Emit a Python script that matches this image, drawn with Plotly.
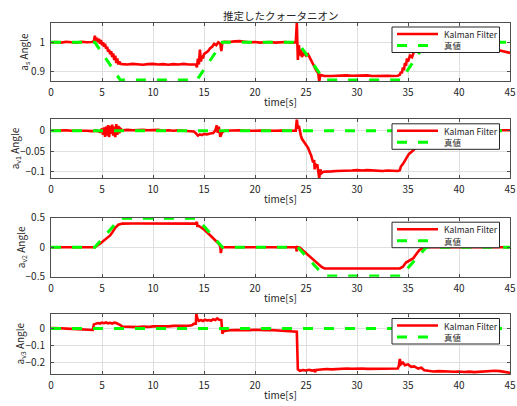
import plotly.graph_objects as go

# ---------------- data ----------------
# reference (true) quaternion trajectory, piecewise linear
t_true = [0, 4.3, 6.8, 14.3, 16.8, 24.2, 26.8, 34.3, 36.8, 45]
as_true = [1, 1, 0.872, 0.872, 1, 1, 0.872, 0.872, 1, 1]
av1_true = [0, 0, 0, 0, 0, 0, 0, 0, 0, 0]
av2_true = [0, 0, 0.49, 0.49, 0, 0, -0.49, -0.49, 0, 0]
av3_true = [0, 0, 0, 0, 0, 0, 0, 0, 0, 0]

# Kalman filter estimate of a_s  (time, value)
as_kf = [
    (0, 1.0), (0.5, 1.001), (1, 0.999), (1.5, 1.002), (2, 1.0), (2.5, 0.999), (3, 1.002),
    (3.5, 1.0), (4, 1.001), (4.2, 1.003), (4.3, 1.022), (4.4, 1.005), (4.5, 1.015), (4.6, 1.0),
    (4.7, 1.012), (4.8, 0.995), (4.9, 1.008), (5.0, 0.99), (5.1, 1.0), (5.2, 0.985), (5.3, 0.995),
    (5.4, 0.978), (5.5, 0.985), (5.6, 0.968), (5.7, 0.975), (5.8, 0.96), (5.9, 0.97), (6.0, 0.95),
    (6.1, 0.962), (6.2, 0.94), (6.3, 0.955), (6.4, 0.93), (6.5, 0.945), (6.6, 0.925), (6.7, 0.935),
    (6.8, 0.927), (7, 0.926), (7.5, 0.925), (8, 0.927), (8.5, 0.926), (9, 0.924), (9.5, 0.926),
    (10, 0.927), (10.5, 0.925), (11, 0.926), (11.5, 0.924), (12, 0.926), (12.5, 0.925), (13, 0.927),
    (13.5, 0.925), (14, 0.926), (14.2, 0.925), (14.3, 0.915), (14.4, 0.945), (14.5, 0.925),
    (14.6, 0.975), (14.7, 0.935), (14.8, 0.955), (14.9, 0.945), (15.0, 0.96), (15.2, 0.965),
    (15.4, 0.97), (15.6, 0.98), (15.8, 0.985), (16.0, 0.995), (16.2, 0.99), (16.4, 1.0),
    (16.6, 0.995), (16.7, 0.97), (16.8, 1.0), (17, 1.002), (17.5, 1.001), (18, 1.003),
    (18.5, 1.004), (19, 1.002), (19.5, 1.0), (20, 1.001), (20.5, 0.999), (21, 1.0), (21.5, 1.001),
    (22, 0.999), (22.5, 1.0), (23, 1.001), (23.5, 0.999), (24, 1.0), (24.1, 1.067), (24.15, 1.0),
    (24.2, 0.94), (24.3, 0.99), (24.4, 0.955), (24.5, 0.975), (24.6, 0.95), (24.8, 0.965),
    (25.0, 0.955), (25.2, 0.96), (25.4, 0.945), (25.6, 0.935), (25.8, 0.92), (26.0, 0.905),
    (26.2, 0.895), (26.3, 0.867), (26.4, 0.89), (26.6, 0.888), (26.8, 0.886), (27.5, 0.886),
    (28, 0.887), (28.5, 0.886), (29, 0.888), (29.5, 0.887), (30, 0.888), (30.5, 0.887),
    (31, 0.888), (31.5, 0.886), (32, 0.887), (32.5, 0.886), (33, 0.887), (33.5, 0.886),
    (34, 0.887), (34.2, 0.89), (34.3, 0.9), (34.4, 0.895), (34.5, 0.915), (34.6, 0.905),
    (34.7, 0.93), (34.8, 0.92), (34.9, 0.945), (35.0, 0.935), (35.2, 0.955), (35.4, 0.95),
    (35.6, 0.97), (35.8, 0.975), (36.0, 0.985), (36.5, 0.995), (37, 1.0), (38, 1.0), (39, 0.998),
    (40, 0.995), (41, 0.99), (42, 0.985), (43, 0.978), (44, 0.972), (44.5, 0.968), (45, 0.964),
]

# Kalman filter estimate of a_v1
av1_kf = [
    (0, 0.0), (0.5, 0.0005), (1, -0.0005), (1.5, 0.001), (2, 0.0), (2.5, 0.0005), (3, -0.0005),
    (3.5, 0.0), (4, -0.001), (4.5, 0.0), (4.8, -0.003), (5.0, 0.005), (5.1, -0.01), (5.2, 0.008),
    (5.3, -0.015), (5.4, 0.01), (5.5, -0.012), (5.6, 0.014), (5.7, -0.016), (5.8, 0.012),
    (5.9, -0.008), (6.0, 0.015), (6.1, -0.012), (6.2, 0.01), (6.3, -0.016), (6.4, 0.016),
    (6.5, -0.01), (6.6, 0.012), (6.7, -0.006), (6.8, 0.005), (7.0, 0.001), (7.5, 0.002),
    (8, 0.001), (8.5, 0.002), (9, 0.002), (9.5, 0.001), (10, 0.001), (10.5, 0.002), (11, 0.0),
    (11.5, 0.001), (12, 0.0), (12.5, 0.001), (13, 0.0), (13.5, -0.001), (14, -0.002),
    (14.2, -0.006), (14.4, -0.012), (14.6, -0.009), (14.8, -0.011), (15.0, -0.008),
    (15.3, -0.009), (15.6, -0.007), (15.9, -0.006), (16.1, 0.0), (16.25, 0.013), (16.35, -0.005),
    (16.45, 0.01), (16.6, -0.015), (16.75, -0.005), (17.0, 0.0), (17.5, 0.0005), (18, 0.0),
    (18.5, 0.001), (19, 0.0), (19.5, -0.0005), (20, 0.0), (20.5, 0.0005), (21, 0.0), (21.5, 0.001),
    (22, 0.0), (22.5, 0.0005), (23, 0.0), (23.5, 0.0), (24.0, 0.0), (24.1, 0.028), (24.2, 0.005),
    (24.3, 0.012), (24.4, -0.005), (24.5, -0.012), (24.6, -0.02), (24.8, -0.028), (25.0, -0.035),
    (25.2, -0.042), (25.4, -0.055), (25.5, -0.06), (25.6, -0.07), (25.7, -0.078), (25.8, -0.072),
    (25.85, -0.095), (25.9, -0.08), (26.0, -0.09), (26.1, -0.082), (26.2, -0.1), (26.3, -0.117),
    (26.4, -0.095), (26.5, -0.105), (26.7, -0.101), (27, -0.1), (27.5, -0.1), (28, -0.099),
    (28.5, -0.099), (29, -0.098), (29.5, -0.098), (30, -0.097), (30.5, -0.098), (31, -0.097),
    (31.5, -0.098), (32, -0.099), (32.5, -0.099), (33, -0.098), (33.5, -0.099), (34, -0.099),
    (34.2, -0.097), (34.3, -0.088), (34.5, -0.082), (34.7, -0.072), (34.9, -0.065),
    (35.1, -0.057), (35.3, -0.053), (35.5, -0.049), (36, -0.035), (36.5, -0.02), (37, -0.008),
    (37.5, 0.0), (38, 0.001), (40, 0.0), (42, 0.0005), (44, 0.001), (45, 0.001),
]

# Kalman filter estimate of a_v2
av2_kf = [
    (0, 0.0), (1, 0.002), (2, -0.002), (3, 0.0), (4, 0.001), (4.3, 0.0), (4.8, 0.06),
    (5.2, 0.11), (5.5, 0.15), (5.8, 0.2), (6.0, 0.25), (6.3, 0.33), (6.6, 0.38), (6.8, 0.395),
    (7, 0.4), (8, 0.401), (9, 0.399), (10, 0.4), (11, 0.401), (12, 0.399), (13, 0.4), (14, 0.4),
    (14.2, 0.4), (14.3, 0.43), (14.35, 0.36), (14.5, 0.36), (15.0, 0.3), (15.5, 0.22),
    (16.0, 0.13), (16.5, 0.05), (16.6, 0.0), (16.65, -0.1), (16.75, 0.0), (17, 0.0), (18, 0.001),
    (19, -0.001), (20, 0.0), (21, 0.001), (22, 0.0), (23, -0.001), (24.0, 0.0), (24.1, -0.07),
    (24.15, 0.0), (24.4, -0.01), (25.0, -0.1), (25.5, -0.18), (26.0, -0.26), (26.5, -0.33),
    (26.8, -0.36), (28, -0.361), (30, -0.36), (32, -0.359), (34.2, -0.36), (34.5, -0.33),
    (34.8, -0.26), (35.5, -0.19), (36.1, -0.05), (36.6, 0.0), (38, 0.0), (40, 0.001), (42, 0.0),
    (44, -0.001), (45, 0.0),
]

# Kalman filter estimate of a_v3
av3_kf = [
    (0, 0.003), (0.5, 0.004), (1, 0.002), (1.5, 0.0), (2, -0.002), (2.5, -0.004), (3, -0.006),
    (3.5, -0.008), (3.9, -0.01), (4.1, -0.008), (4.2, 0.025), (4.4, 0.03), (4.6, 0.033),
    (4.8, 0.03), (5.0, 0.035), (5.2, 0.032), (5.4, 0.036), (5.6, 0.031), (5.8, 0.034), (6.0, 0.03),
    (6.2, 0.035), (6.4, 0.033), (6.6, 0.028), (6.8, 0.02), (7.0, 0.012), (7.5, 0.01), (8, 0.011),
    (8.5, 0.009), (9, 0.012), (9.5, 0.01), (10, 0.013), (10.5, 0.012), (11, 0.015), (11.5, 0.013),
    (12, 0.016), (12.5, 0.015), (13, 0.018), (13.5, 0.017), (13.8, 0.02), (14.0, 0.028),
    (14.2, 0.03), (14.25, 0.086), (14.35, 0.06), (14.5, 0.045), (14.7, 0.05), (14.9, 0.045),
    (15.1, 0.052), (15.3, 0.048), (15.5, 0.05), (15.7, 0.046), (15.9, 0.055), (16.1, 0.05),
    (16.3, 0.06), (16.5, 0.052), (16.7, 0.05), (16.8, -0.03), (16.9, -0.015), (17.2, -0.012),
    (17.5, -0.01), (18, -0.009), (18.5, -0.01), (19, -0.008), (19.5, -0.009), (20, -0.007),
    (20.5, -0.01), (21, -0.009), (21.5, -0.008), (22, -0.01), (22.5, -0.012), (23, -0.01),
    (23.5, -0.012), (24.0, -0.015), (24.1, -0.018), (24.2, -0.24), (24.4, -0.248),
    (24.7, -0.244), (25, -0.246), (25.3, -0.242), (25.6, -0.247), (25.8, -0.245), (25.9, -0.255),
    (26, -0.243), (26.5, -0.24), (27, -0.238), (27.5, -0.24), (28, -0.237), (28.5, -0.236),
    (29, -0.235), (29.5, -0.236), (30, -0.234), (30.5, -0.235), (31, -0.237), (31.5, -0.236),
    (32, -0.238), (32.5, -0.237), (33, -0.236), (33.5, -0.236), (34, -0.235), (34.1, -0.22),
    (34.2, -0.178), (34.3, -0.21), (34.5, -0.2), (34.7, -0.215), (35, -0.21), (35.3, -0.225),
    (35.6, -0.222), (36, -0.235), (36.3, -0.23), (36.6, -0.245), (37, -0.25), (37.5, -0.252),
    (38, -0.25), (38.5, -0.253), (39, -0.252), (39.5, -0.254), (40, -0.252), (40.5, -0.255),
    (41, -0.253), (41.5, -0.256), (42, -0.254), (42.5, -0.25), (43, -0.247), (43.5, -0.248),
    (44, -0.25), (44.5, -0.255), (45, -0.26),
]

# axis ticks and limits per panel
x_ticks = [0, 5, 10, 15, 20, 25, 30, 35, 40, 45]
panels = [
    dict(kf=as_kf, true=as_true, ylabel="a<sub>s</sub> Angle", ylabel_x=24,
         yrange=[0.869, 1.067], yticks=[0.9, 1], yticktext=["0.9", "1"]),
    dict(kf=av1_kf, true=av1_true, ylabel="a<sub>v1</sub> Angle", ylabel_x=14.5,
         yrange=[-0.117, 0.028], yticks=[-0.1, -0.05, 0], yticktext=["\u22120.1", "\u22120.05", "0"]),
    dict(kf=av2_kf, true=av2_true, ylabel="a<sub>v2</sub> Angle", ylabel_x=21,
         yrange=[-0.5, 0.5], yticks=[-0.5, 0, 0.5], yticktext=["\u22120.5", "0", "0.5"]),
    dict(kf=av3_kf, true=av3_true, ylabel="a<sub>v3</sub> Angle", ylabel_x=19.5,
         yrange=[-0.267, 0.086], yticks=[-0.2, -0.1, 0], yticktext=["\u22120.2", "\u22120.1", "0"]),
]
legend_names = ["Kalman Filter", "真値"]
title_text = "推定したクォータニオン"
xlabel_text = "time[s]"

# ---------------- layout ----------------
W, H = 517, 406
FONT = "Noto Sans CJK JP, Noto Sans, sans-serif"
TXT = "#262626"
AX = "#4d4d4d"
GRID = "#dfdfdf"
RED = "#ff0000"
GREEN = "#00ff00"
DASH = "10px,11px"

x_px = (51, 510)
panel_px = [(22.5, 81), (119.3, 178.3), (217.7, 276.7), (314, 374)]

fig = go.Figure()
layout = dict(
    template="none",
    width=W, height=H, margin=dict(l=0, r=0, t=0, b=0, pad=0, autoexpand=False),
    paper_bgcolor="white", plot_bgcolor="white",
    font=dict(family=FONT, size=10, color=TXT),
    showlegend=False, shapes=[], annotations=[],
)

xdom = [x_px[0] / W, x_px[1] / W]
for i, p in enumerate(panels):
    n = "" if i == 0 else str(i + 1)
    top, bot = panel_px[i]
    ydom = [1 - bot / H, 1 - top / H]
    ph = bot - top
    t_kf = [a for a, _ in p["kf"]]
    v_kf = [b for _, b in p["kf"]]

    fig.add_trace(go.Scatter(x=t_kf, y=v_kf, mode="lines", name=legend_names[0],
                             line=dict(color=RED, width=2.6),
                             xaxis="x" + n, yaxis="y" + n))
    fig.add_trace(go.Scatter(x=t_true, y=p["true"], mode="lines", name=legend_names[1],
                             line=dict(color=GREEN, width=3, dash=DASH),
                             xaxis="x" + n, yaxis="y" + n))

    layout["xaxis" + n] = dict(
        domain=xdom, anchor="y" + n, range=[0, 45], tickvals=x_ticks, automargin=False,
        showline=True, linecolor=AX, linewidth=1, mirror="ticks",
        ticks="inside", ticklen=3, tickcolor=AX, showgrid=True, gridcolor=GRID, gridwidth=1,
        zeroline=False, tickfont=dict(size=10, color=TXT), ticklabelstandoff=2,
    )
    layout["yaxis" + n] = dict(
        domain=ydom, anchor="x" + n, range=p["yrange"], tickvals=p["yticks"],
        ticktext=p["yticktext"], automargin=False,
        showline=True, linecolor=AX, linewidth=1, mirror="ticks",
        ticks="inside", ticklen=3, tickcolor=AX, showgrid=True, gridcolor=GRID, gridwidth=1,
        zeroline=False, tickfont=dict(size=10, color=TXT), ticklabelstandoff=3,
    )

    # axis labels
    layout["annotations"].append(dict(
        text=xlabel_text, xref="paper", yref="paper", x=(xdom[0] + xdom[1]) / 2,
        y=1 - (bot + 20.5) / H, xanchor="center", yanchor="middle", showarrow=False,
        font=dict(size=10, color=TXT)))
    layout["annotations"].append(dict(
        text=p["ylabel"], xref="paper", yref="paper", x=p["ylabel_x"] / W,
        y=(ydom[0] + ydom[1]) / 2, xanchor="center", yanchor="middle", showarrow=False,
        textangle=-90, font=dict(size=10, color=TXT)))

    # legend box for this panel (in subplot-domain coordinates)
    xw = x_px[1] - x_px[0]
    lx0, lx1 = (392 - x_px[0]) / xw, (499.5 - x_px[0]) / xw
    ly_top = 1 - 4.5 / ph
    ly_bot = 1 - 30 / ph
    row1 = 1 - 11.5 / ph
    row2 = 1 - 23 / ph
    sx0, sx1 = (397 - x_px[0]) / xw, (438 - x_px[0]) / xw
    dx, dy = "x" + n + " domain", "y" + n + " domain"
    layout["shapes"].append(dict(type="rect", xref=dx, yref=dy, x0=lx0, x1=lx1,
                                 y0=ly_bot, y1=ly_top, fillcolor="white",
                                 line=dict(color=TXT, width=1)))
    layout["shapes"].append(dict(type="line", xref=dx, yref=dy, x0=sx0, x1=sx1,
                                 y0=row1, y1=row1, line=dict(color=RED, width=2.6)))
    layout["shapes"].append(dict(type="line", xref=dx, yref=dy, x0=sx0, x1=sx1,
                                 y0=row2, y1=row2, line=dict(color=GREEN, width=3, dash=DASH)))
    for name, ry in zip(legend_names, (row1, row2)):
        layout["annotations"].append(dict(
            text=name, xref=dx, yref=dy, x=(442 - x_px[0]) / xw, y=ry,
            xanchor="left", yanchor="middle", showarrow=False,
            font=dict(size=8.5, color=TXT)))

layout["annotations"].append(dict(
    text=title_text, xref="paper", yref="paper", x=(xdom[0] + xdom[1]) / 2, y=1 - 15.5 / H,
    xanchor="center", yanchor="middle", showarrow=False, font=dict(size=10.5, color=TXT)))

fig.update_layout(**layout)
fig.write_html("out.html")
